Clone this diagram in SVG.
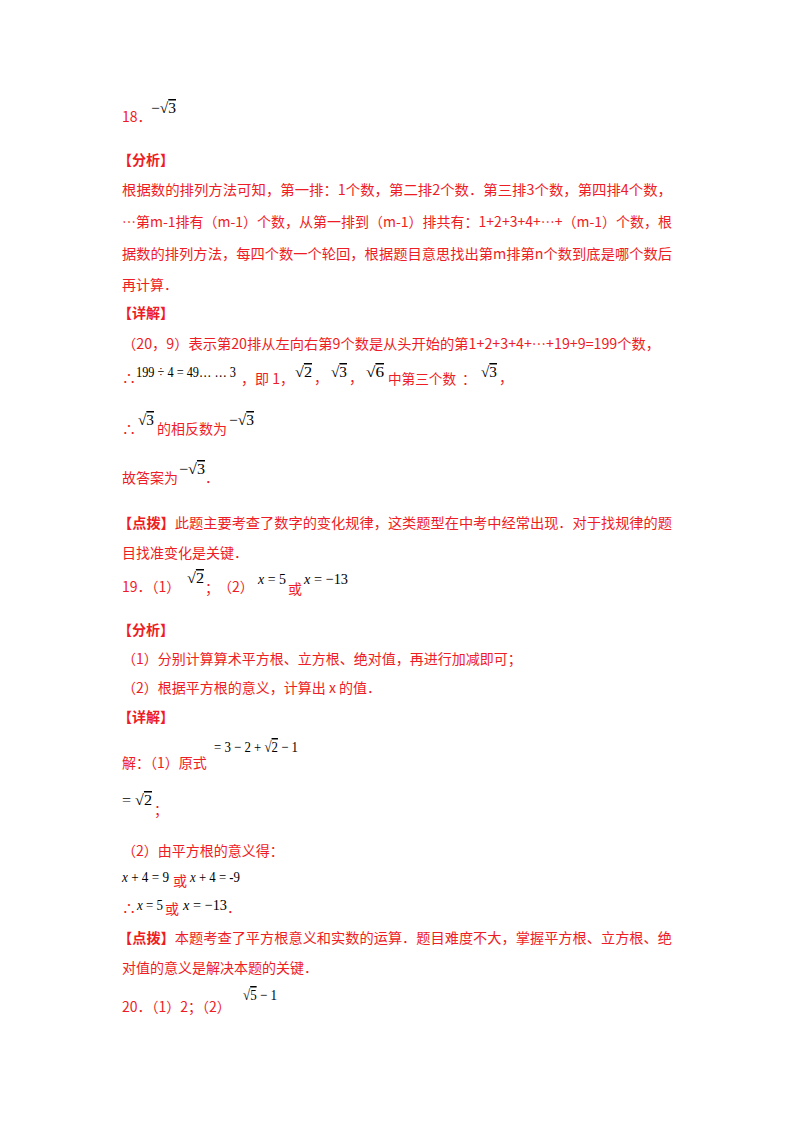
<svg xmlns="http://www.w3.org/2000/svg" width="800" height="1132" viewBox="0 0 800 1132">
<style>
.r{fill:#ee1c24;font-family:"Noto Sans CJK SC",sans-serif;font-size:14px}
.b{font-weight:bold}
.m{fill:#000;font-family:"Liberation Serif",serif;font-size:15px}
.i{font-style:italic}
.o{text-decoration:overline}
</style>
<rect width="800" height="1132" fill="#fff"/>
<text class="r" x="122" y="122">18．</text>
<text class="m" x="151" y="113" textLength="25" lengthAdjust="spacingAndGlyphs">−√<tspan class="o">3</tspan></text>
<text class="r b" x="118" y="165">【分析】</text>
<text class="r" x="122" y="195" textLength="550" lengthAdjust="spacingAndGlyphs">根据数的排列方法可知，第一排：1个数，第二排2个数．第三排3个数，第四排4个数，</text>
<text class="r" x="122" y="227" textLength="550" lengthAdjust="spacingAndGlyphs">…第m-1排有（m-1）个数，从第一排到（m-1）排共有：1+2+3+4+…+（m-1）个数，根</text>
<text class="r" x="122" y="259" textLength="550" lengthAdjust="spacingAndGlyphs">据数的排列方法，每四个数一个轮回，根据题目意思找出第m排第n个数到底是哪个数后</text>
<text class="r" x="122" y="290">再计算．</text>
<text class="r b" x="118" y="318">【详解】</text>
<text class="r" x="122" y="349" textLength="538" lengthAdjust="spacingAndGlyphs">（20，9）表示第20排从左向右第9个数是从头开始的第1+2+3+4+…+19+9=199个数，</text>
<text class="r" x="122" y="383">∴</text>
<text class="m" x="136" y="377" textLength="100" lengthAdjust="spacingAndGlyphs">199 ÷ 4 = 49… … 3</text>
<text class="r" x="241" y="384">，即 1，</text>
<text class="m" x="295" y="377" textLength="17" lengthAdjust="spacingAndGlyphs">√<tspan class="o">2</tspan></text>
<text class="r" x="314" y="383">，</text>
<text class="m" x="331" y="377" textLength="16" lengthAdjust="spacingAndGlyphs">√<tspan class="o">3</tspan></text>
<text class="r" x="349" y="383">，</text>
<text class="m" x="366" y="377" textLength="18" lengthAdjust="spacingAndGlyphs">√<tspan class="o">6</tspan></text>
<text class="r" x="388" y="384" textLength="68" lengthAdjust="spacingAndGlyphs">中第三个数</text>
<text class="r" x="462" y="384">：</text>
<text class="m" x="481" y="377" textLength="16" lengthAdjust="spacingAndGlyphs">√<tspan class="o">3</tspan></text>
<text class="r" x="499" y="383">，</text>
<text class="r" x="122" y="434">∴</text>
<text class="m" x="138" y="425" textLength="16" lengthAdjust="spacingAndGlyphs">√<tspan class="o">3</tspan></text>
<text class="r" x="157" y="434" textLength="70" lengthAdjust="spacingAndGlyphs">的相反数为</text>
<text class="m" x="229" y="425" textLength="25" lengthAdjust="spacingAndGlyphs">−√<tspan class="o">3</tspan></text>
<text class="r" x="122" y="483" textLength="56" lengthAdjust="spacingAndGlyphs">故答案为</text>
<text class="m" x="179" y="474" textLength="26" lengthAdjust="spacingAndGlyphs">−√<tspan class="o">3</tspan></text>
<text class="r" x="205" y="483">．</text>
<text class="r" x="118" y="528" textLength="554" lengthAdjust="spacingAndGlyphs"><tspan class="b">【点拨】</tspan>此题主要考查了数字的变化规律，这类题型在中考中经常出现．对于找规律的题</text>
<text class="r" x="122" y="558">目找准变化是关键．</text>
<text class="r" x="122" y="592">19．（1）</text>
<text class="m" x="187" y="583" textLength="17" lengthAdjust="spacingAndGlyphs">√<tspan class="o">2</tspan></text>
<text class="r" x="205" y="593">；</text>
<text class="r" x="218" y="592">（2）</text>
<text class="m" x="258" y="584" textLength="28" lengthAdjust="spacingAndGlyphs"><tspan class="i">x</tspan> = 5</text>
<text class="r" x="288" y="594">或</text>
<text class="m" x="304" y="584" textLength="44" lengthAdjust="spacingAndGlyphs"><tspan class="i">x</tspan> = −13</text>
<text class="r b" x="118" y="635">【分析】</text>
<text class="r" x="122" y="664">（1）分别计算算术平方根、立方根、绝对值，再进行加减即可；</text>
<text class="r" x="122" y="693">（2）根据平方根的意义，计算出 x 的值．</text>
<text class="r b" x="118" y="722">【详解】</text>
<text class="r" x="122" y="768">解：（1）原式</text>
<text class="m" x="214" y="752" textLength="84" lengthAdjust="spacingAndGlyphs">= 3 − 2 + √<tspan class="o">2</tspan> − 1</text>
<text class="m" x="122" y="805" textLength="30" lengthAdjust="spacingAndGlyphs">= √<tspan class="o">2</tspan></text>
<text class="r" x="154" y="815">；</text>
<text class="r" x="122" y="856">（2）由平方根的意义得：</text>
<text class="m" x="122" y="882" textLength="47" lengthAdjust="spacingAndGlyphs"><tspan class="i">x</tspan> + 4 = 9</text>
<text class="r" x="173" y="886">或</text>
<text class="m" x="190" y="882" textLength="50" lengthAdjust="spacingAndGlyphs"><tspan class="i">x</tspan> + 4 = -9</text>
<text class="r" x="122" y="913">∴</text>
<text class="m" x="137" y="910" textLength="26" lengthAdjust="spacingAndGlyphs"><tspan class="i">x</tspan> = 5</text>
<text class="r" x="165" y="914">或</text>
<text class="m" x="183" y="910" textLength="44" lengthAdjust="spacingAndGlyphs"><tspan class="i">x</tspan> = −13</text>
<text class="r" x="227" y="913">．</text>
<text class="r" x="118" y="943" textLength="554" lengthAdjust="spacingAndGlyphs"><tspan class="b">【点拨】</tspan>本题考查了平方根意义和实数的运算．题目难度不大，掌握平方根、立方根、绝</text>
<text class="r" x="122" y="973">对值的意义是解决本题的关键．</text>
<text class="r" x="122" y="1012">20．（1）2；（2）</text>
<text class="m" x="243" y="1000" textLength="34" lengthAdjust="spacingAndGlyphs">√<tspan class="o">5</tspan> − 1</text>
</svg>
